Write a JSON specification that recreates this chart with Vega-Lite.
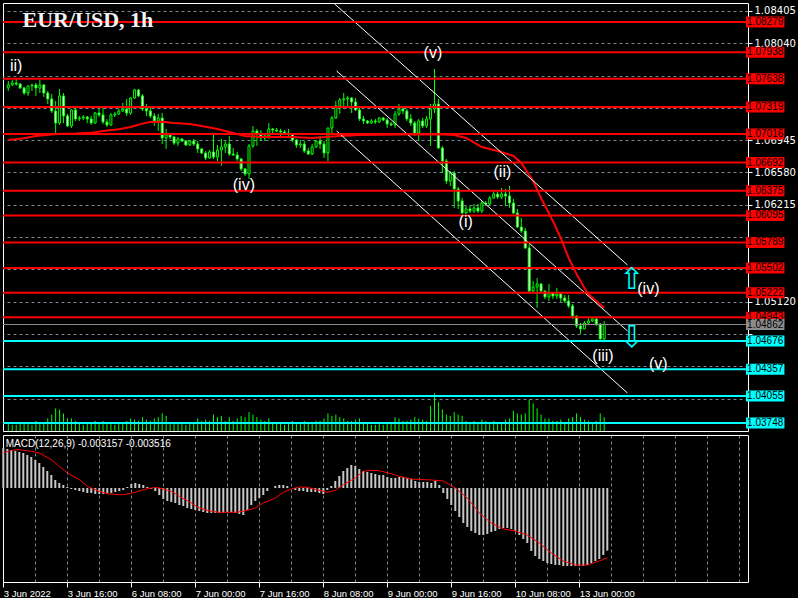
{
"$schema": "https://vega.github.io/schema/vega-lite/v6.json",
"background": "#000000",
"padding": {"left": 0, "top": 2, "right": 12, "bottom": 8},
"spacing": 2,
"config": {
  "view": {"stroke": "#ffffff", "strokeWidth": 1},
  "axis": {"domain": false, "labelColor": "#ffffff", "labelFont": "DejaVu Sans", "labelFontSize": 10, "tickColor": "#ffffff", "gridColor": "#778899", "gridDash": [3, 3], "gridWidth": 1},
  "text": {"font": "Liberation Sans"}
},
"datasets": {
  "c": [
{"i":0,"o":1.07535,"h":1.07614,"l":1.07501,"c":1.07569,"v":1500,"m":0.002016},
{"i":1,"o":1.07569,"h":1.07625,"l":1.07558,"c":1.07591,"v":1250,"m":0.001966},
{"i":2,"o":1.07591,"h":1.07637,"l":1.07558,"c":1.07580,"v":1250,"m":0.001915},
{"i":3,"o":1.07580,"h":1.07591,"l":1.07524,"c":1.07535,"v":1500,"m":0.001865},
{"i":4,"o":1.07535,"h":1.07546,"l":1.07456,"c":1.07478,"v":1750,"m":0.001814},
{"i":5,"o":1.07478,"h":1.07558,"l":1.07445,"c":1.07558,"v":1500,"m":0.001764},
{"i":6,"o":1.07558,"h":1.07580,"l":1.07501,"c":1.07569,"v":1250,"m":0.001663},
{"i":7,"o":1.07569,"h":1.07591,"l":1.07445,"c":1.07535,"v":2000,"m":0.001562},
{"i":8,"o":1.07535,"h":1.07625,"l":1.07478,"c":1.07569,"v":1750,"m":0.001411},
{"i":9,"o":1.07569,"h":1.07580,"l":1.07433,"c":1.07478,"v":1750,"m":0.00126},
{"i":10,"o":1.07478,"h":1.07501,"l":1.07354,"c":1.07411,"v":2500,"m":0.001058},
{"i":11,"o":1.07411,"h":1.07467,"l":1.07252,"c":1.07275,"v":3250,"m":0.000857},
{"i":12,"o":1.07275,"h":1.07388,"l":1.07026,"c":1.07139,"v":4500,"m":0.000655},
{"i":13,"o":1.07139,"h":1.07524,"l":1.07117,"c":1.07445,"v":4250,"m":0.000403},
{"i":14,"o":1.07445,"h":1.07478,"l":1.07139,"c":1.07219,"v":3500,"m":0.000252},
{"i":15,"o":1.07219,"h":1.07241,"l":1.07094,"c":1.07106,"v":2500,"m":0.000151},
{"i":16,"o":1.07106,"h":1.07298,"l":1.07083,"c":1.07286,"v":2500,"m":0.00005},
{"i":17,"o":1.07286,"h":1.07309,"l":1.07162,"c":1.07185,"v":2000,"m":-0.00005},
{"i":18,"o":1.07185,"h":1.07219,"l":1.07162,"c":1.07196,"v":1500,"m":-0.000101},
{"i":19,"o":1.07196,"h":1.07230,"l":1.07173,"c":1.07207,"v":1250,"m":-0.000151},
{"i":20,"o":1.07207,"h":1.07219,"l":1.07139,"c":1.07185,"v":1500,"m":-0.000202},
{"i":21,"o":1.07185,"h":1.07219,"l":1.07117,"c":1.07139,"v":1750,"m":-0.000252},
{"i":22,"o":1.07139,"h":1.07264,"l":1.07128,"c":1.07252,"v":2000,"m":-0.000252},
{"i":23,"o":1.07252,"h":1.07298,"l":1.07207,"c":1.07230,"v":1750,"m":-0.000302},
{"i":24,"o":1.07230,"h":1.07309,"l":1.07128,"c":1.07151,"v":2000,"m":-0.000302},
{"i":25,"o":1.07151,"h":1.07185,"l":1.07094,"c":1.07117,"v":1500,"m":-0.000302},
{"i":26,"o":1.07117,"h":1.07252,"l":1.07106,"c":1.07230,"v":1750,"m":-0.000252},
{"i":27,"o":1.07230,"h":1.07264,"l":1.07207,"c":1.07241,"v":1250,"m":-0.000252},
{"i":28,"o":1.07241,"h":1.07298,"l":1.07230,"c":1.07275,"v":1500,"m":-0.000202},
{"i":29,"o":1.07275,"h":1.07365,"l":1.07264,"c":1.07298,"v":1750,"m":-0.000151},
{"i":30,"o":1.07298,"h":1.07411,"l":1.07219,"c":1.07252,"v":2000,"m":-0.000101},
{"i":31,"o":1.07252,"h":1.07433,"l":1.07230,"c":1.07422,"v":2500,"m":0.00005},
{"i":32,"o":1.07422,"h":1.07524,"l":1.07411,"c":1.07512,"v":2250,"m":0.000202},
{"i":33,"o":1.07512,"h":1.07524,"l":1.07433,"c":1.07445,"v":2000,"m":0.000252},
{"i":34,"o":1.07445,"h":1.07467,"l":1.07275,"c":1.07298,"v":2750,"m":0.000202},
{"i":35,"o":1.07298,"h":1.07354,"l":1.07219,"c":1.07275,"v":2250,"m":0.000151},
{"i":36,"o":1.07275,"h":1.07320,"l":1.07196,"c":1.07219,"v":2000,"m":0.00005},
{"i":37,"o":1.07219,"h":1.07252,"l":1.07106,"c":1.07162,"v":2500,"m":-0.00005},
{"i":38,"o":1.07162,"h":1.07241,"l":1.07049,"c":1.07196,"v":2750,"m":-0.000151},
{"i":39,"o":1.07196,"h":1.07252,"l":1.06902,"c":1.06970,"v":3500,"m":-0.000353},
{"i":40,"o":1.06970,"h":1.07072,"l":1.06846,"c":1.07004,"v":3000,"m":-0.000554},
{"i":41,"o":1.07004,"h":1.07026,"l":1.06959,"c":1.06981,"v":1750,"m":-0.000655},
{"i":42,"o":1.06981,"h":1.06993,"l":1.06891,"c":1.06913,"v":1500,"m":-0.000706},
{"i":43,"o":1.06913,"h":1.06981,"l":1.06880,"c":1.06959,"v":1750,"m":-0.000756},
{"i":44,"o":1.06959,"h":1.06970,"l":1.06925,"c":1.06936,"v":1500,"m":-0.000857},
{"i":45,"o":1.06936,"h":1.06947,"l":1.06880,"c":1.06891,"v":1250,"m":-0.000907},
{"i":46,"o":1.06891,"h":1.06947,"l":1.06880,"c":1.06936,"v":1500,"m":-0.001008},
{"i":47,"o":1.06936,"h":1.06959,"l":1.06880,"c":1.06902,"v":1750,"m":-0.001058},
{"i":48,"o":1.06902,"h":1.06936,"l":1.06800,"c":1.06846,"v":2500,"m":-0.001109},
{"i":49,"o":1.06846,"h":1.06857,"l":1.06789,"c":1.06800,"v":2000,"m":-0.001159},
{"i":50,"o":1.06800,"h":1.06823,"l":1.06721,"c":1.06744,"v":2250,"m":-0.00121},
{"i":51,"o":1.06744,"h":1.06834,"l":1.06733,"c":1.06812,"v":2000,"m":-0.00126},
{"i":52,"o":1.06812,"h":1.07015,"l":1.06733,"c":1.06755,"v":3250,"m":-0.00126},
{"i":53,"o":1.06755,"h":1.06891,"l":1.06710,"c":1.06834,"v":2750,"m":-0.00126},
{"i":54,"o":1.06834,"h":1.06959,"l":1.06654,"c":1.06868,"v":3000,"m":-0.00126},
{"i":55,"o":1.06868,"h":1.06936,"l":1.06800,"c":1.06902,"v":2000,"m":-0.00126},
{"i":56,"o":1.06902,"h":1.06993,"l":1.06767,"c":1.06789,"v":2750,"m":-0.00121},
{"i":57,"o":1.06789,"h":1.06857,"l":1.06767,"c":1.06778,"v":2000,"m":-0.00121},
{"i":58,"o":1.06778,"h":1.06812,"l":1.06710,"c":1.06733,"v":2500,"m":-0.00126},
{"i":59,"o":1.06733,"h":1.06744,"l":1.06597,"c":1.06620,"v":3000,"m":-0.00131},
{"i":60,"o":1.06620,"h":1.06631,"l":1.06541,"c":1.06563,"v":2750,"m":-0.001361},
{"i":61,"o":1.06563,"h":1.06902,"l":1.06507,"c":1.06880,"v":3750,"m":-0.001109},
{"i":62,"o":1.06880,"h":1.07106,"l":1.06857,"c":1.07049,"v":3250,"m":-0.000857},
{"i":63,"o":1.07049,"h":1.07072,"l":1.06880,"c":1.07015,"v":2750,"m":-0.000655},
{"i":64,"o":1.07015,"h":1.07060,"l":1.06936,"c":1.06970,"v":2250,"m":-0.000504},
{"i":65,"o":1.06970,"h":1.07015,"l":1.06936,"c":1.06993,"v":2000,"m":-0.000353},
{"i":66,"o":1.06993,"h":1.07139,"l":1.06959,"c":1.07072,"v":2500,"m":-0.000151},
{"i":67,"o":1.07072,"h":1.07083,"l":1.07026,"c":1.07060,"v":1750,"m":0},
{"i":68,"o":1.07060,"h":1.07083,"l":1.07038,"c":1.07049,"v":1500,"m":0.000101},
{"i":69,"o":1.07049,"h":1.07072,"l":1.06993,"c":1.07038,"v":1500,"m":0.000151},
{"i":70,"o":1.07038,"h":1.07060,"l":1.07004,"c":1.07026,"v":1250,"m":0.000151},
{"i":71,"o":1.07026,"h":1.07072,"l":1.06993,"c":1.07015,"v":1500,"m":0.000101},
{"i":72,"o":1.07015,"h":1.07026,"l":1.06925,"c":1.06947,"v":2000,"m":0},
{"i":73,"o":1.06947,"h":1.06959,"l":1.06857,"c":1.06891,"v":1750,"m":-0.000101},
{"i":74,"o":1.06891,"h":1.06947,"l":1.06857,"c":1.06902,"v":1750,"m":-0.000151},
{"i":75,"o":1.06902,"h":1.06936,"l":1.06800,"c":1.06823,"v":2000,"m":-0.000151},
{"i":76,"o":1.06823,"h":1.06857,"l":1.06778,"c":1.06789,"v":1500,"m":-0.000202},
{"i":77,"o":1.06789,"h":1.06902,"l":1.06778,"c":1.06868,"v":1750,"m":-0.000202},
{"i":78,"o":1.06868,"h":1.06947,"l":1.06857,"c":1.06936,"v":2000,"m":-0.000202},
{"i":79,"o":1.06936,"h":1.06993,"l":1.06846,"c":1.06902,"v":2000,"m":-0.000252},
{"i":80,"o":1.06902,"h":1.06936,"l":1.06744,"c":1.06800,"v":2500,"m":-0.000302},
{"i":81,"o":1.06800,"h":1.07083,"l":1.06710,"c":1.07083,"v":3500,"m":-0.000101},
{"i":82,"o":1.07083,"h":1.07219,"l":1.07015,"c":1.07196,"v":3000,"m":0.000101},
{"i":83,"o":1.07196,"h":1.07388,"l":1.07185,"c":1.07332,"v":3250,"m":0.000353},
{"i":84,"o":1.07332,"h":1.07422,"l":1.07241,"c":1.07399,"v":2750,"m":0.000605},
{"i":85,"o":1.07399,"h":1.07478,"l":1.07298,"c":1.07411,"v":2500,"m":0.000857},
{"i":86,"o":1.07411,"h":1.07445,"l":1.07309,"c":1.07422,"v":2000,"m":0.001008},
{"i":87,"o":1.07422,"h":1.07433,"l":1.07252,"c":1.07377,"v":2000,"m":0.001159},
{"i":88,"o":1.07377,"h":1.07422,"l":1.07275,"c":1.07286,"v":2250,"m":0.001109},
{"i":89,"o":1.07286,"h":1.07309,"l":1.07162,"c":1.07185,"v":2500,"m":0.000958},
{"i":90,"o":1.07185,"h":1.07219,"l":1.07128,"c":1.07162,"v":1750,"m":0.000857},
{"i":91,"o":1.07162,"h":1.07173,"l":1.07128,"c":1.07139,"v":1500,"m":0.000806},
{"i":92,"o":1.07139,"h":1.07185,"l":1.07128,"c":1.07162,"v":1250,"m":0.000756},
{"i":93,"o":1.07162,"h":1.07185,"l":1.07128,"c":1.07151,"v":1250,"m":0.000706},
{"i":94,"o":1.07151,"h":1.07207,"l":1.07139,"c":1.07196,"v":1500,"m":0.000655},
{"i":95,"o":1.07196,"h":1.07207,"l":1.07162,"c":1.07173,"v":1250,"m":0.000655},
{"i":96,"o":1.07173,"h":1.07196,"l":1.07083,"c":1.07128,"v":1500,"m":0.000554},
{"i":97,"o":1.07128,"h":1.07151,"l":1.07106,"c":1.07117,"v":1750,"m":0.000504},
{"i":98,"o":1.07117,"h":1.07275,"l":1.07083,"c":1.07241,"v":2750,"m":0.000504},
{"i":99,"o":1.07241,"h":1.07354,"l":1.07219,"c":1.07298,"v":2500,"m":0.000554},
{"i":100,"o":1.07298,"h":1.07332,"l":1.07241,"c":1.07275,"v":2000,"m":0.000554},
{"i":101,"o":1.07275,"h":1.07298,"l":1.07162,"c":1.07185,"v":2000,"m":0.000504},
{"i":102,"o":1.07185,"h":1.07241,"l":1.07106,"c":1.07139,"v":2250,"m":0.000454},
{"i":103,"o":1.07139,"h":1.07162,"l":1.06993,"c":1.07026,"v":2750,"m":0.000353},
{"i":104,"o":1.07026,"h":1.07185,"l":1.06936,"c":1.07162,"v":2500,"m":0.000302},
{"i":105,"o":1.07162,"h":1.07196,"l":1.07083,"c":1.07106,"v":2250,"m":0.000302},
{"i":106,"o":1.07106,"h":1.07219,"l":1.07083,"c":1.07185,"v":2000,"m":0.000302},
{"i":107,"o":1.07185,"h":1.07354,"l":1.06880,"c":1.07298,"v":5000,"m":0.000252},
{"i":108,"o":1.07298,"h":1.07750,"l":1.07252,"c":1.07354,"v":7500,"m":0.000353},
{"i":109,"o":1.07354,"h":1.07411,"l":1.06846,"c":1.06857,"v":5750,"m":0.000151},
{"i":110,"o":1.06857,"h":1.06880,"l":1.06574,"c":1.06710,"v":4250,"m":-0.000252},
{"i":111,"o":1.06710,"h":1.06733,"l":1.06450,"c":1.06484,"v":3250,"m":-0.000554},
{"i":112,"o":1.06484,"h":1.06597,"l":1.06428,"c":1.06574,"v":3000,"m":-0.000857},
{"i":113,"o":1.06574,"h":1.06597,"l":1.06179,"c":1.06394,"v":3750,"m":-0.001159},
{"i":114,"o":1.06394,"h":1.06416,"l":1.06168,"c":1.06258,"v":3250,"m":-0.001462},
{"i":115,"o":1.06258,"h":1.06292,"l":1.06111,"c":1.06122,"v":3000,"m":-0.001764},
{"i":116,"o":1.06122,"h":1.06202,"l":1.06111,"c":1.06168,"v":2000,"m":-0.001966},
{"i":117,"o":1.06168,"h":1.06202,"l":1.06122,"c":1.06145,"v":1750,"m":-0.002167},
{"i":118,"o":1.06145,"h":1.06224,"l":1.06122,"c":1.06179,"v":2000,"m":-0.002268},
{"i":119,"o":1.06179,"h":1.06224,"l":1.06122,"c":1.06145,"v":1750,"m":-0.002369},
{"i":120,"o":1.06145,"h":1.06258,"l":1.06122,"c":1.06235,"v":2250,"m":-0.002369},
{"i":121,"o":1.06235,"h":1.06258,"l":1.06202,"c":1.06224,"v":2000,"m":-0.002318},
{"i":122,"o":1.06224,"h":1.06315,"l":1.06202,"c":1.06292,"v":1750,"m":-0.002218},
{"i":123,"o":1.06292,"h":1.06371,"l":1.06281,"c":1.06337,"v":2000,"m":-0.002167},
{"i":124,"o":1.06337,"h":1.06360,"l":1.06281,"c":1.06303,"v":1750,"m":-0.002066},
{"i":125,"o":1.06303,"h":1.06405,"l":1.06281,"c":1.06337,"v":1750,"m":-0.002016},
{"i":126,"o":1.06337,"h":1.06394,"l":1.06202,"c":1.06315,"v":2250,"m":-0.002016},
{"i":127,"o":1.06315,"h":1.06428,"l":1.06179,"c":1.06235,"v":2500,"m":-0.002066},
{"i":128,"o":1.06235,"h":1.06281,"l":1.06111,"c":1.06122,"v":4000,"m":-0.002167},
{"i":129,"o":1.06122,"h":1.06168,"l":1.05953,"c":1.05964,"v":3500,"m":-0.002369},
{"i":130,"o":1.05964,"h":1.06066,"l":1.05896,"c":1.05919,"v":3250,"m":-0.00257},
{"i":131,"o":1.05919,"h":1.05953,"l":1.05716,"c":1.05727,"v":3500,"m":-0.002772},
{"i":132,"o":1.05727,"h":1.05772,"l":1.05219,"c":1.05241,"v":6250,"m":-0.003175},
{"i":133,"o":1.05241,"h":1.05354,"l":1.05219,"c":1.05286,"v":5500,"m":-0.003427},
{"i":134,"o":1.05286,"h":1.05388,"l":1.05049,"c":1.05320,"v":4500,"m":-0.003578},
{"i":135,"o":1.05320,"h":1.05332,"l":1.05219,"c":1.05241,"v":3250,"m":-0.003679},
{"i":136,"o":1.05241,"h":1.05241,"l":1.05151,"c":1.05173,"v":2500,"m":-0.00378},
{"i":137,"o":1.05173,"h":1.05320,"l":1.05128,"c":1.05219,"v":2500,"m":-0.00383},
{"i":138,"o":1.05219,"h":1.05219,"l":1.05151,"c":1.05185,"v":2000,"m":-0.003881},
{"i":139,"o":1.05185,"h":1.05275,"l":1.05151,"c":1.05207,"v":2000,"m":-0.003881},
{"i":140,"o":1.05207,"h":1.05219,"l":1.05117,"c":1.05162,"v":2250,"m":-0.003931},
{"i":141,"o":1.05162,"h":1.05196,"l":1.05106,"c":1.05128,"v":1750,"m":-0.003931},
{"i":142,"o":1.05128,"h":1.05196,"l":1.05049,"c":1.05072,"v":2500,"m":-0.003931},
{"i":143,"o":1.05072,"h":1.05094,"l":1.04925,"c":1.04959,"v":2750,"m":-0.003931},
{"i":144,"o":1.04959,"h":1.04959,"l":1.04823,"c":1.04846,"v":3500,"m":-0.003931},
{"i":145,"o":1.04846,"h":1.04879,"l":1.04756,"c":1.04812,"v":2750,"m":-0.003931},
{"i":146,"o":1.04812,"h":1.04902,"l":1.04812,"c":1.04879,"v":2250,"m":-0.003881},
{"i":147,"o":1.04879,"h":1.04947,"l":1.04868,"c":1.04902,"v":2000,"m":-0.00378},
{"i":148,"o":1.04902,"h":1.04947,"l":1.04891,"c":1.04925,"v":1750,"m":-0.003679},
{"i":149,"o":1.04925,"h":1.04947,"l":1.04846,"c":1.04868,"v":2000,"m":-0.003578},
{"i":150,"o":1.04868,"h":1.04879,"l":1.04676,"c":1.04699,"v":3500,"m":-0.003377},
{"i":151,"o":1.04699,"h":1.04902,"l":1.04688,"c":1.04862,"v":2750,"m":-0.003157}
  ],
  "ma": [
{"i":0,"v":1.06947},{"i":4,"v":1.06967},{"i":7,"v":1.06993},{"i":13,"v":1.07019},{"i":17,"v":1.07021},{"i":21,"v":1.07030},{"i":24,"v":1.07049},{"i":28,"v":1.07068},{"i":31,"v":1.07094},{"i":34,"v":1.07132},{"i":36,"v":1.07151},{"i":39,"v":1.07154},{"i":42,"v":1.07139},{"i":46,"v":1.07128},{"i":49,"v":1.07106},{"i":53,"v":1.07072},{"i":56,"v":1.07038},{"i":59,"v":1.07004},{"i":60,"v":1.06993},{"i":64,"v":1.06981},{"i":72,"v":1.06981},{"i":77,"v":1.06970},{"i":84,"v":1.06993},{"i":89,"v":1.07004},{"i":99,"v":1.07009},{"i":109,"v":1.07012},{"i":113,"v":1.07004},{"i":116,"v":1.06970},{"i":120,"v":1.06868},{"i":124,"v":1.06823},{"i":128,"v":1.06767},{"i":130,"v":1.06687},{"i":133,"v":1.06484},{"i":135,"v":1.06292},{"i":138,"v":1.06032},{"i":140,"v":1.05840},{"i":142,"v":1.05614},{"i":144,"v":1.05433},{"i":146,"v":1.05275},{"i":147,"v":1.05207},{"i":151,"v":1.05049}
  ],
  "sig": [
{"i":0,"s":0.001764},{"i":2,"s":0.0019},{"i":4,"s":0.00193},{"i":7,"s":0.00185},{"i":9,"s":0.001764},{"i":12,"s":0.001426},{"i":14,"s":0.001094},{"i":16,"s":0.000756},{"i":19,"s":0.000418},{"i":21,"s":0.000086},{"i":24,"s":-0.000166},{"i":26,"s":-0.000287},{"i":29,"s":-0.000338},{"i":30,"s":-0.000338},{"i":33,"s":-0.000217},{"i":35,"s":-0.000086},{"i":38,"s":0.000035},{"i":39,"s":0},{"i":42,"s":-0.000166},{"i":44,"s":-0.000418},{"i":47,"s":-0.000756},{"i":49,"s":-0.001008},{"i":52,"s":-0.001174},{"i":54,"s":-0.001225},{"i":58,"s":-0.001225},{"i":60,"s":-0.001174},{"i":63,"s":-0.001008},{"i":65,"s":-0.000756},{"i":68,"s":-0.000504},{"i":70,"s":-0.000217},{"i":72,"s":-0.00005},{"i":74,"s":0.00005},{"i":76,"s":0.000035},{"i":79,"s":-0.000116},{"i":81,"s":-0.000217},{"i":83,"s":-0.000116},{"i":85,"s":0.000166},{"i":88,"s":0.000504},{"i":90,"s":0.000842},{"i":92,"s":0.000892},{"i":94,"s":0.000872},{"i":97,"s":0.000721},{"i":99,"s":0.00059},{"i":102,"s":0.000454},{"i":107,"s":0.000403},{"i":110,"s":0.000353},{"i":113,"s":0},{"i":116,"s":-0.000504},{"i":119,"s":-0.00126},{"i":122,"s":-0.001764},{"i":125,"s":-0.002066},{"i":128,"s":-0.002167},{"i":131,"s":-0.002369},{"i":134,"s":-0.002772},{"i":137,"s":-0.003276},{"i":140,"s":-0.003679},{"i":143,"s":-0.003881},{"i":146,"s":-0.003881},{"i":149,"s":-0.003679},{"i":151,"s":-0.003516}
  ],
  "lev": [
{"p":1.08279,"k":"r"},{"p":1.07938,"k":"r"},{"p":1.07638,"k":"r"},{"p":1.07319,"k":"r"},{"p":1.07016,"k":"r"},{"p":1.06692,"k":"r"},{"p":1.06375,"k":"r"},{"p":1.06095,"k":"r"},{"p":1.05789,"k":"r"},{"p":1.05502,"k":"r"},{"p":1.05222,"k":"r"},{"p":1.04943,"k":"r"},
{"p":1.04862,"k":"b"},
{"p":1.04676,"k":"s"},{"p":1.04357,"k":"s"},{"p":1.04055,"k":"s"},{"p":1.03748,"k":"s"}
  ],
  "chan": [
{"a":82.7,"b":156.9,"p1":1.08484,"p2":1.05535},
{"a":83.2,"b":156.9,"p1":1.07727,"p2":1.04789},
{"a":83.2,"b":156.9,"p1":1.07049,"p2":1.04088}
  ],
  "wave": [
{"i":2,"p":1.07784,"t":"ii)"},{"i":107.6,"p":1.0793,"t":"(v)"},{"i":59.7,"p":1.06439,"t":"(iv)"},{"i":115.9,"p":1.06021,"t":"(i)"},{"i":125.2,"p":1.06586,"t":"(ii)"},{"i":150.7,"p":1.04507,"t":"(iii)"},{"i":162.2,"p":1.05264,"t":"(iv)"},{"i":164.7,"p":1.04416,"t":"(v)"}
  ],
  "arrow": [
{"i":158,"p":1.05365,"t":"⇧"},{"i":158,"p":1.0471,"t":"⇩"}
  ],
  "title": [{"i":3.6,"p":1.08224,"t":"EUR/USD, 1h"}],
  "mlab": [{"i":0.6,"v":0.002218,"t":"MACD(12,26,9) -0.003157 -0.003516"}]
},
"vconcat": [
 {
  "width": 745, "height": 428,
  "layer": [
   {
    "data": {"name": "c"},
    "mark": {"type": "rule", "color": "#00ff00", "strokeWidth": 1},
    "encoding": {
      "x": {"field": "i", "type": "quantitative", "scale": {"domain": [-0.075, 186.175], "nice": false, "zero": false},
            "axis": {"values": [8,16,24,32,40,48,56,64,72,80,88,96,104,112,120,128,136,144,152,160,168,176,184], "labels": false, "ticks": false, "grid": true, "title": null}},
      "y": {"field": "l", "type": "quantitative", "scale": {"domain": [1.03659, 1.08495], "nice": false, "zero": false},
            "axis": {"orient": "right", "values": [1.08405,1.0804,1.07675,1.0731,1.06945,1.0658,1.06215,1.0585,1.05485,1.0512,1.04755,1.0439,1.04025], "labelExpr": "indexof([1.07675,1.0731,1.0585,1.05485,1.04755,1.0439,1.04025], datum.value) >= 0 ? '' : format(datum.value, '.5f')", "grid": true, "tickSize": 4, "labelPadding": 2, "zindex": 0, "title": null}},
      "y2": {"field": "h"}
    }
   },
   {
    "data": {"name": "c"},
    "mark": {"type": "bar", "width": 2, "stroke": "#00ff00", "strokeWidth": 1},
    "encoding": {
      "x": {"field": "i", "type": "quantitative", "axis": null},
      "y": {"field": "o", "type": "quantitative", "scale": {"domain": [1.03659, 1.08495], "nice": false, "zero": false}, "axis": null},
      "y2": {"field": "c"},
      "fill": {"condition": {"test": "datum.c < datum.o", "value": "#ffffff"}, "value": "#000000"}
    }
   },
   {
    "data": {"name": "c"},
    "mark": {"type": "rule", "color": "#00ff00", "strokeWidth": 1},
    "encoding": {
      "x": {"field": "i", "type": "quantitative", "axis": null},
      "y": {"field": "v", "type": "quantitative", "scale": {"domain": [0, 85000], "nice": false, "zero": true}, "axis": null},
      "y2": {"datum": 0}
    }
   },
   {
    "data": {"name": "ma"},
    "mark": {"type": "line", "color": "#ff0000", "strokeWidth": 2},
    "encoding": {
      "x": {"field": "i", "type": "quantitative", "axis": null},
      "y": {"field": "v", "type": "quantitative", "scale": {"domain": [1.03659, 1.08495], "nice": false, "zero": false}, "axis": null}
    }
   },
   {
    "data": {"name": "chan"},
    "mark": {"type": "rule", "color": "#ffffff", "strokeWidth": 1},
    "encoding": {
      "x": {"field": "a", "type": "quantitative", "axis": null},
      "x2": {"field": "b"},
      "y": {"field": "p1", "type": "quantitative", "scale": {"domain": [1.03659, 1.08495], "nice": false, "zero": false}, "axis": null},
      "y2": {"field": "p2"}
    }
   },
   {
    "data": {"name": "lev"},
    "mark": {"type": "rule"},
    "encoding": {
      "y": {"field": "p", "type": "quantitative", "scale": {"domain": [1.03659, 1.08495], "nice": false, "zero": false}, "axis": null},
      "color": {"field": "k", "type": "nominal", "scale": {"domain": ["r", "s", "b"], "range": ["#ff0000", "#00ffff", "#8c8c8c"]}, "legend": null},
      "strokeWidth": {"condition": {"test": "datum.k == 'b'", "value": 1}, "value": 2}
    }
   },
   {
    "data": {"name": "lev"},
    "mark": {"type": "rect", "height": 11},
    "encoding": {
      "x": {"datum": 186.925, "type": "quantitative", "axis": null},
      "x2": {"datum": 196.675},
      "y": {"field": "p", "type": "quantitative", "scale": {"domain": [1.03659, 1.08495], "nice": false, "zero": false}, "axis": null},
      "color": {"field": "k", "type": "nominal", "legend": null}
    }
   },
   {
    "data": {"name": "lev"},
    "mark": {"type": "text", "align": "center", "baseline": "middle", "fontSize": 10, "font": "Liberation Sans", "color": "#000000"},
    "encoding": {
      "x": {"datum": 191.8, "type": "quantitative", "axis": null},
      "y": {"field": "p", "type": "quantitative", "scale": {"domain": [1.03659, 1.08495], "nice": false, "zero": false}, "axis": null},
      "text": {"field": "p", "type": "quantitative", "format": ".5f"}
    }
   },
   {
    "data": {"name": "wave"},
    "mark": {"type": "text", "align": "center", "baseline": "middle", "fontSize": 16, "font": "Liberation Sans", "color": "#ffffff"},
    "encoding": {
      "x": {"field": "i", "type": "quantitative", "axis": null},
      "y": {"field": "p", "type": "quantitative", "scale": {"domain": [1.03659, 1.08495], "nice": false, "zero": false}, "axis": null},
      "text": {"field": "t"}
    }
   },
   {
    "data": {"name": "arrow"},
    "mark": {"type": "text", "align": "center", "baseline": "middle", "fontSize": 30, "font": "DejaVu Sans", "color": "#00ffff"},
    "encoding": {
      "x": {"field": "i", "type": "quantitative", "axis": null},
      "y": {"field": "p", "type": "quantitative", "scale": {"domain": [1.03659, 1.08495], "nice": false, "zero": false}, "axis": null},
      "text": {"field": "t"}
    }
   },
   {
    "data": {"name": "title"},
    "mark": {"type": "text", "align": "left", "baseline": "alphabetic", "fontSize": 22, "font": "Liberation Serif", "fontWeight": "bold", "color": "#f4f4f4"},
    "encoding": {
      "x": {"field": "i", "type": "quantitative", "axis": null},
      "y": {"field": "p", "type": "quantitative", "scale": {"domain": [1.03659, 1.08495], "nice": false, "zero": false}, "axis": null},
      "text": {"field": "t"}
    }
   }
  ],
  "resolve": {"scale": {"y": "independent"}}
 },
 {
  "width": 745, "height": 147,
  "layer": [
   {
    "data": {"name": "c"},
    "mark": {"type": "rule", "color": "#c8c8c8", "strokeWidth": 2},
    "encoding": {
      "x": {"field": "i", "type": "quantitative", "scale": {"domain": [-0.075, 186.175], "nice": false, "zero": false},
            "axis": {"orient": "bottom", "values": [8,16,24,32,40,48,56,64,72,80,88,96,104,112,120,128,136,144,152,160,168,176,184], "labels": false, "ticks": false, "grid": true, "title": null}},
      "y": {"field": "m", "type": "quantitative", "scale": {"domain": [-0.004738, 0.002671], "nice": false, "zero": false},
            "axis": {"orient": "right", "values": [0.002561, 0, -0.004431], "labelExpr": "replace(format(datum.value, '.6f'), '−', '-')", "grid": true, "gridOpacity": {"condition": {"test": "datum.value == 0", "value": 1}, "value": 0}, "tickSize": 4, "labelPadding": 2, "title": null}},
      "y2": {"datum": 0}
    }
   },
   {
    "data": {"name": "sig"},
    "mark": {"type": "line", "color": "#ff0000", "strokeWidth": 1},
    "encoding": {
      "x": {"field": "i", "type": "quantitative",
            "axis": {"orient": "bottom", "values": [0,16,32,48,64,80,96,112,128,144], "labelExpr": "['3 Jun 2022','3 Jun 16:00','6 Jun 08:00','7 Jun 00:00','7 Jun 16:00','8 Jun 08:00','9 Jun 00:00','9 Jun 16:00','10 Jun 08:00','13 Jun 00:00'][round(datum.value/16)]", "labelAlign": "left", "labelFont": "Liberation Sans", "labelFontSize": 9.5, "tickSize": 5, "labelPadding": 1, "grid": false, "title": null}},
      "y": {"field": "s", "type": "quantitative", "axis": null}
    }
   },
   {
    "data": {"name": "mlab"},
    "mark": {"type": "text", "align": "left", "baseline": "middle", "fontSize": 10, "font": "Liberation Sans", "color": "#ffffff"},
    "encoding": {
      "x": {"field": "i", "type": "quantitative", "axis": null},
      "y": {"field": "v", "type": "quantitative", "axis": null},
      "text": {"field": "t"}
    }
   }
  ],
  "resolve": {"axis": {"x": "independent"}}
 }
]
}
